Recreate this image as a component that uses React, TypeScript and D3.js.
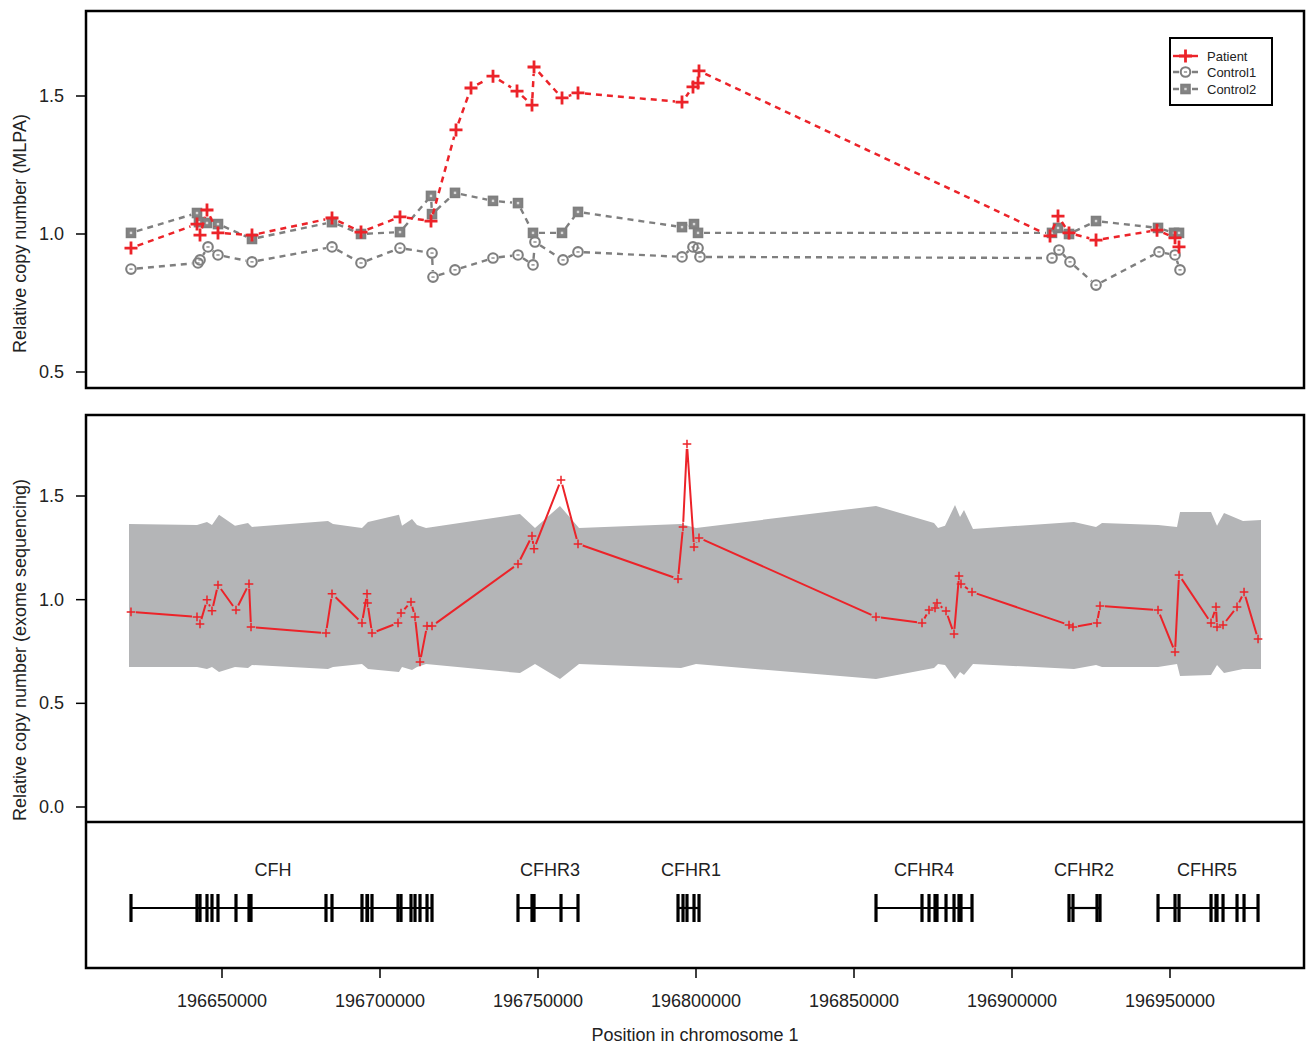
import React from 'react';
import * as d3 from 'd3';

/* ---------- MLPA (top panel) ---------- */
const patientPos = [
  196621200, 196642090, 196643040, 196645250, 196648730, 196659490, 196684810, 196693990,
  196706330, 196716140, 196724050, 196728800, 196735760, 196743360, 196748100, 196748740,
  196757600, 196762660, 196795570, 196799050, 196800640, 196800950, 196912030, 196914560,
  196918040, 196926590, 196945890, 196951590, 196952850,
];
const patientMLPA = [
  0.949, 1.036, 0.996, 1.087, 1.004, 0.996, 1.058, 1.007,
  1.062, 1.047, 1.377, 1.529, 1.572, 1.518, 1.467, 1.605,
  1.493, 1.511, 1.478, 1.533, 1.547, 1.591, 0.993, 1.065,
  1.004, 0.978, 1.014, 0.986, 0.953,
];

const control1Pos = [
  196621200, 196642405, 196643040, 196645570, 196648730, 196659490, 196684810, 196693990,
  196706330, 196716460, 196716773, 196723735, 196735760, 196743670, 196748420, 196749050,
  196757920, 196762660, 196795570, 196799050, 196800640, 196801270, 196912660, 196914875,
  196918360, 196926590, 196946530, 196951590, 196953170,
];
const control1MLPA = [
  0.873, 0.895, 0.906, 0.953, 0.924, 0.899, 0.953, 0.895,
  0.949, 0.931, 0.844, 0.870, 0.913, 0.924, 0.888, 0.971,
  0.906, 0.935, 0.917, 0.953, 0.949, 0.917, 0.913, 0.942,
  0.899, 0.815, 0.935, 0.924, 0.870,
];

const control2Pos = [
  196621200, 196642090, 196642720, 196645250, 196648730, 196659490, 196684810, 196693990,
  196706330, 196716140, 196716460, 196723735, 196735760, 196743670, 196748420, 196757600,
  196762660, 196795570, 196799370, 196800640, 196912660, 196914560, 196918040, 196926590,
  196946210, 196951270, 196952850,
];
const control2MLPA = [
  1.004, 1.076, 1.043, 1.040, 1.036, 0.982, 1.043, 1.000,
  1.007, 1.138, 1.072, 1.149, 1.120, 1.112, 1.004, 1.004,
  1.080, 1.025, 1.036, 1.004, 1.004, 1.022, 1.000, 1.047,
  1.022, 1.004, 1.004,
];

/* ---------- exome sequencing (bottom panel) ---------- */
const exomePos = [
  196621200, 196642090, 196643040, 196645250, 196646835, 196648730, 196654430, 196658545,
  196659180, 196682910, 196684810, 196694300, 196695890, 196696050, 196697470, 196705700,
  196706650, 196709810, 196711080, 196712660, 196714880, 196716460, 196743670, 196748100,
  196748740, 196757280, 196762660, 196794310, 196795890, 196797150, 196799370, 196800950,
  196856965, 196871520, 196873740, 196875640, 196876270, 196879120, 196881650, 196883230,
  196883860, 196887345, 196918040, 196919300, 196926900, 196927850, 196946210, 196951590,
  196952850, 196962980, 196964560, 196964880, 196966780, 196971210, 196973430, 196977860,
];
const exomeRatio = [
  0.941, 0.917, 0.883, 0.999, 0.946, 1.071, 0.950, 1.076,
  0.868, 0.839, 1.028, 0.888, 1.028, 0.984, 0.839, 0.888,
  0.936, 0.989, 0.917, 0.699, 0.873, 0.873, 1.172, 1.307,
  1.245, 1.577, 1.269, 1.100, 1.351, 1.751, 1.254, 1.298,
  0.917, 0.888, 0.950, 0.960, 0.984, 0.945, 0.835, 1.114,
  1.076, 1.037, 0.878, 0.868, 0.888, 0.970, 0.950, 0.748,
  1.119, 0.888, 0.965, 0.868, 0.878, 0.965, 1.037, 0.810,
];

// reference range of controls (grey band)
const bandPos = [
  196620570, 196642090, 196645250, 196646835, 196649050, 196654110, 196658230, 196659490,
  196683545, 196685130, 196694300, 196696200, 196706010, 196706960, 196710130, 196711710,
  196714560, 196744300, 196749050, 196756960, 196762980, 196795255, 196800000, 196856965,
  196875320, 196876585, 196878800, 196881965, 196883550, 196884810, 196887660, 196919620,
  196926590, 196928485, 196946210, 196952220, 196953170, 196962980, 196964880, 196967090,
  196973100, 196978800,
];
const bandUpper = [
  1.365, 1.360, 1.375, 1.360, 1.409, 1.356, 1.370, 1.351,
  1.380, 1.365, 1.346, 1.375, 1.409, 1.356, 1.389, 1.360,
  1.346, 1.413, 1.346, 1.452, 1.346, 1.365, 1.346, 1.452,
  1.370, 1.346, 1.356, 1.457, 1.399, 1.433, 1.341, 1.375,
  1.351, 1.370, 1.360, 1.351, 1.423, 1.423, 1.356, 1.418,
  1.380, 1.384,
];
const bandLower = [
  0.675, 0.675, 0.666, 0.675, 0.651, 0.675, 0.671, 0.685,
  0.666, 0.675, 0.690, 0.666, 0.651, 0.675, 0.661, 0.675,
  0.690, 0.646, 0.690, 0.617, 0.690, 0.671, 0.690, 0.617,
  0.671, 0.690, 0.685, 0.617, 0.651, 0.637, 0.690, 0.666,
  0.685, 0.675, 0.675, 0.690, 0.632, 0.637, 0.685, 0.646,
  0.666, 0.666,
];

/* ---------- genes ---------- */
const geneNames = ['CFH', 'CFHR3', 'CFHR1', 'CFHR4', 'CFHR2', 'CFHR5'];
const geneStart = [196621200, 196743670, 196794310, 196856965, 196918040, 196946210];
const geneEnd = [196716460, 196762660, 196800950, 196887345, 196927850, 196977860];
const geneLabelPos = [196666140, 196753800, 196798420, 196872155, 196922790, 196961710];

const xTicks = [196650000, 196700000, 196750000, 196800000, 196850000, 196900000, 196950000];
const topYTicks = [0.5, 1.0, 1.5];
const botYTicks = [0.0, 0.5, 1.0, 1.5];

/* ---------- style ---------- */
const RED = '#ec2329';
const GREY = '#7f7f7f';
const BAND = '#b4b5b7';
const FONT = '"Liberation Sans", Arial, Helvetica, sans-serif';

const x = d3.scaleLinear().domain([196650000, 196950000]).range([222, 1170]);
const yTop = d3.scaleLinear().domain([0.5, 1.5]).range([372, 96]);
const yBot = d3.scaleLinear().domain([0, 1.5]).range([807, 496]);

const P = { l: 86, r: 1304, t1: 11, b1: 388, t2: 415, sep: 822, b2: 968 };
const geneY = 908;

type Pt = [number, number];

// R type="b": line segments that stop short of each point
const gapPath = (pts: Pt[], gap: number) => {
  const line = d3.line();
  return pts.slice(1).map((p, i) => {
    const a = pts[i];
    const dx = p[0] - a[0], dy = p[1] - a[1];
    const len = Math.hypot(dx, dy);
    if (len <= 2 * gap) return '';
    const ux = dx / len, uy = dy / len;
    return line([[a[0] + ux * gap, a[1] + uy * gap], [p[0] - ux * gap, p[1] - uy * gap]]);
  }).join('');
};

const plus = (s: number) => `M${-s},0H${s}M0,${-s}V${s}`;

const pts = (pos: number[], val: number[], y: d3.ScaleLinear<number, number>) =>
  pos.map((p, i) => [x(p), y(val[i])] as Pt);

function Circle({ cx, cy }: { cx: number; cy: number }) {
  return (
    <g transform={`translate(${cx},${cy})`}>
      <circle r={4.8} fill="none" stroke={GREY} strokeWidth={2.1} />
      <path d="M-1.6,0H1.6" stroke={GREY} strokeWidth={1.3} />
    </g>
  );
}

function Square({ cx, cy }: { cx: number; cy: number }) {
  return (
    <g transform={`translate(${cx},${cy})`}>
      <rect x={-4.4} y={-4.4} width={8.8} height={8.8} fill="#848484" stroke={GREY} strokeWidth={1.8} />
      <rect x={-1.2} y={-1.2} width={2.4} height={2.4} fill="#d9d9d9" />
    </g>
  );
}

export default function App() {
  const patPts = pts(patientPos, patientMLPA, yTop);
  const c1Pts = pts(control1Pos, control1MLPA, yTop);
  const c2Pts = pts(control2Pos, control2MLPA, yTop);
  const exPts = pts(exomePos, exomeRatio, yBot);

  const band = d3.area<number>()
    .x((_, i) => x(bandPos[i]))
    .y0((_, i) => yBot(bandLower[i]))
    .y1((_, i) => yBot(bandUpper[i]))(bandPos);

  const txt = { fontFamily: FONT, fontSize: 18, fill: '#222' };

  return (
    <svg width={1306} height={1045} style={{ position: 'absolute', left: 0, top: 0, background: '#fff' }}>
      {/* ----- top panel ----- */}
      <path d={gapPath(c2Pts, 6)} fill="none" stroke={GREY} strokeWidth={2.4} strokeDasharray="6,5" />
      <path d={gapPath(c1Pts, 6)} fill="none" stroke={GREY} strokeWidth={2.4} strokeDasharray="6,5" />
      {c2Pts.map((p, i) => <Square key={'s' + i} cx={p[0]} cy={p[1]} />)}
      {c1Pts.map((p, i) => <Circle key={'c' + i} cx={p[0]} cy={p[1]} />)}
      <path d={gapPath(patPts, 7)} fill="none" stroke={RED} strokeWidth={2.5} strokeDasharray="6,5" />
      {patPts.map((p, i) => (
        <path key={'p' + i} transform={`translate(${p[0]},${p[1]})`} d={plus(6.5)} stroke={RED} strokeWidth={2.8} />
      ))}

      {topYTicks.map(t => (
        <g key={'ty' + t}>
          <line x1={P.l - 10} x2={P.l} y1={yTop(t)} y2={yTop(t)} stroke="#000" strokeWidth={1.5} />
          <text x={P.l - 22} y={yTop(t)} textAnchor="end" dominantBaseline="central" {...txt}>{t.toFixed(1)}</text>
        </g>
      ))}
      <text transform={`translate(20,${(P.t1 + P.b1) / 2 + 34}) rotate(-90)`} textAnchor="middle" dominantBaseline="central" {...txt}>
        Relative copy number (MLPA)
      </text>

      {/* legend */}
      <g fontFamily={FONT} fontSize={13}>
        <rect x={1170} y={38} width={102} height={67} fill="#fff" stroke="#000" strokeWidth={2} />
        <path d="M1173,56H1198" stroke={RED} strokeWidth={2.4} />
        <path transform="translate(1185.5,56)" d={plus(6.5)} stroke={RED} strokeWidth={2.8} />
        <text x={1207} y={56} dominantBaseline="central" fill="#222">Patient</text>
        <path d="M1173,72H1179M1192,72H1198" stroke={GREY} strokeWidth={2.4} />
        <Circle cx={1185.5} cy={72} />
        <text x={1207} y={72} dominantBaseline="central" fill="#222">Control1</text>
        <path d="M1173,89H1179M1192,89H1198" stroke={GREY} strokeWidth={2.4} />
        <Square cx={1185.5} cy={89} />
        <text x={1207} y={89} dominantBaseline="central" fill="#222">Control2</text>
      </g>

      <rect x={P.l} y={P.t1} width={P.r - P.l} height={P.b1 - P.t1} fill="none" stroke="#000" strokeWidth={2.5} />

      {/* ----- bottom panel ----- */}
      <path d={band ?? ''} fill={BAND} />
      <path d={gapPath(exPts, 5)} fill="none" stroke={RED} strokeWidth={2} />
      {exPts.map((p, i) => (
        <path key={'e' + i} transform={`translate(${p[0]},${p[1]})`} d={plus(4.3)} stroke={RED} strokeWidth={1.5} />
      ))}

      {botYTicks.map(t => (
        <g key={'by' + t}>
          <line x1={P.l - 10} x2={P.l} y1={yBot(t)} y2={yBot(t)} stroke="#000" strokeWidth={1.5} />
          <text x={P.l - 22} y={yBot(t)} textAnchor="end" dominantBaseline="central" {...txt}>{t.toFixed(1)}</text>
        </g>
      ))}
      <text transform={`translate(20,650) rotate(-90)`} textAnchor="middle" dominantBaseline="central" {...txt}>
        Relative copy number (exome sequencing)
      </text>

      {/* gene track */}
      {geneNames.map((g, gi) => {
        const exons = exomePos.filter(p => p >= geneStart[gi] && p <= geneEnd[gi]);
        return (
          <g key={g}>
            <line x1={x(geneStart[gi])} x2={x(geneEnd[gi])} y1={geneY} y2={geneY} stroke="#000" strokeWidth={2.2} />
            {exons.map((p, i) => (
              <line key={i} x1={x(p)} x2={x(p)} y1={geneY - 14} y2={geneY + 14} stroke="#000" strokeWidth={3.2} />
            ))}
            <text x={x(geneLabelPos[gi])} y={870} textAnchor="middle" dominantBaseline="central" {...txt}>{g}</text>
          </g>
        );
      })}

      <line x1={P.l} x2={P.r} y1={P.sep} y2={P.sep} stroke="#000" strokeWidth={2.5} />
      <rect x={P.l} y={P.t2} width={P.r - P.l} height={P.b2 - P.t2} fill="none" stroke="#000" strokeWidth={2.5} />

      {/* x axis */}
      {xTicks.map(t => (
        <g key={'x' + t}>
          <line x1={x(t)} x2={x(t)} y1={P.b2} y2={P.b2 + 10} stroke="#000" strokeWidth={1.5} />
          <text x={x(t)} y={1001} textAnchor="middle" dominantBaseline="central" {...txt}>{t}</text>
        </g>
      ))}
      <text x={695} y={1035} textAnchor="middle" dominantBaseline="central" {...txt}>Position in chromosome 1</text>
    </svg>
  );
}
